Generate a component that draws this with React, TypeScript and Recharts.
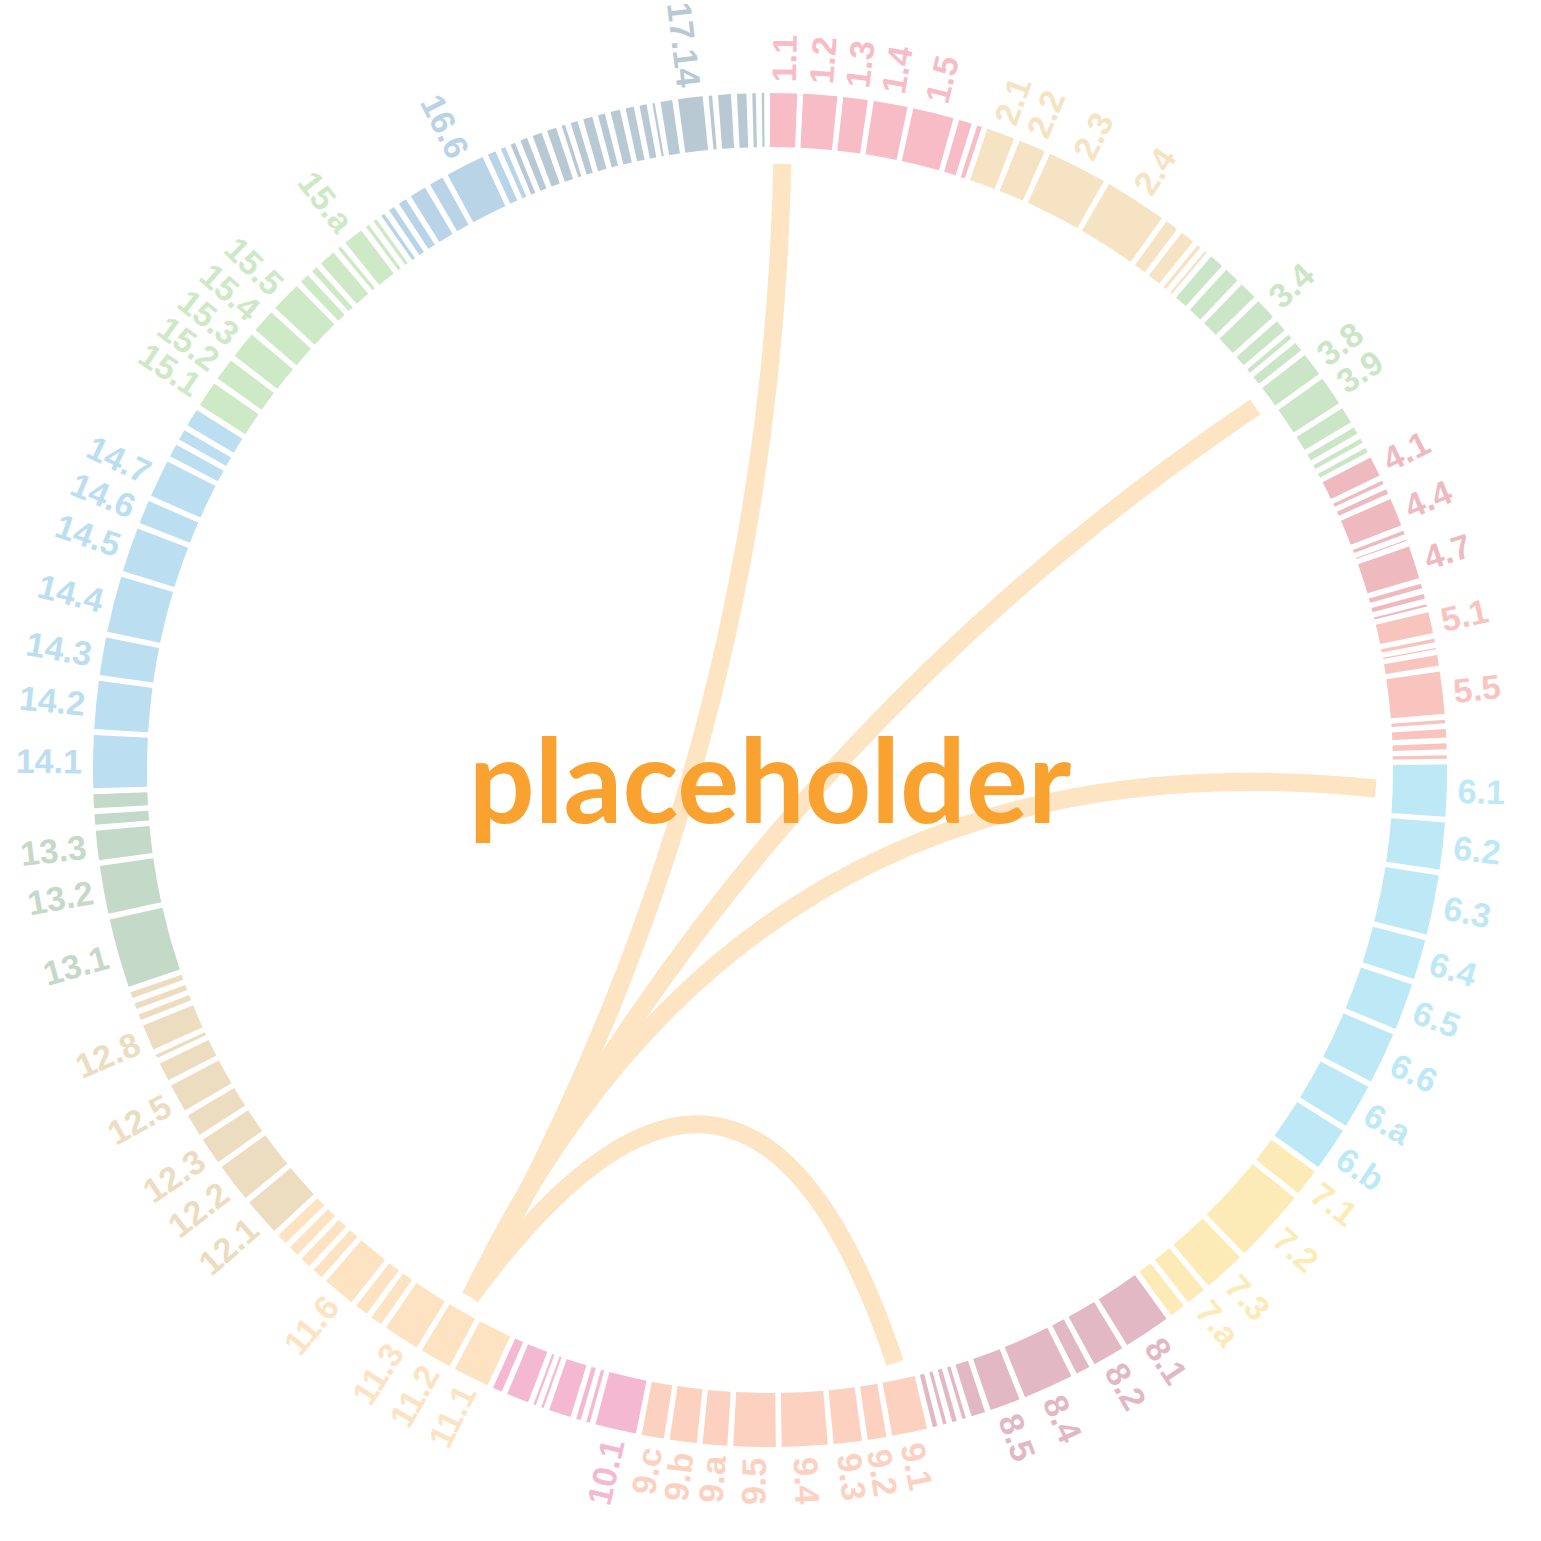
import { PieChart, Pie, Cell, Customized } from 'recharts'

// colours of the 17 groups, in ring order
const groupColors = [
  '#f8bcc6', '#f5e3c3', '#cbe6c6', '#eebac0', '#f9c4be', '#bde9f6', '#fdebb7', '#e2b8c5', '#fcd1bf',
  '#f5b8d3', '#fde3c2', '#ecdcc0', '#c4d9c7', '#bcdef1', '#cde9c6', '#b9d4e6', '#b9c9d4',
]

// ring segments, clockwise from 12 o'clock
const segmentIds = [
  '1.1', '1.2', '1.3', '1.4', '1.5', '1.6', '1.7',
  '2.1', '2.2', '2.3', '2.4', '2.5', '2.6', '2.7', '2.8',
  '3.1', '3.2', '3.3', '3.4', '3.5', '3.6', '3.7', '3.8', '3.9', '3.a', '3.b', '3.c', '3.d',
  '4.1', '4.2', '4.3', '4.4', '4.5', '4.6', '4.7', '4.8', '4.9', '4.a',
  '5.1', '5.2', '5.3', '5.4', '5.5', '5.6', '5.7', '5.8', '5.9',
  '6.1', '6.2', '6.3', '6.4', '6.5', '6.6', '6.a', '6.b',
  '7.1', '7.2', '7.3', '7.a', '7.b',
  '8.1', '8.2', '8.3', '8.4', '8.5', '8.6', '8.7', '8.8', '8.9', '8.a',
  '9.1', '9.2', '9.3', '9.4', '9.5', '9.a', '9.b', '9.c',
  '10.1', '10.2', '10.3', '10.4', '10.5', '10.6', '10.7', '10.8',
  '11.1', '11.2', '11.3', '11.4', '11.5', '11.6', '11.7', '11.8', '11.9', '11.a',
  '12.1', '12.2', '12.3', '12.4', '12.5', '12.6', '12.7', '12.8', '12.9', '12.a', '12.b',
  '13.1', '13.2', '13.3', '13.4', '13.5',
  '14.1', '14.2', '14.3', '14.4', '14.5', '14.6', '14.7', '14.8', '14.9', '14.a',
  '15.1', '15.2', '15.3', '15.4', '15.5', '15.6', '15.7', '15.8', '15.9', '15.a', '15.b', '15.c',
  '16.1', '16.2', '16.3', '16.4', '16.5', '16.6', '16.7', '16.8',
  '17.1', '17.2', '17.3', '17.4', '17.5', '17.6', '17.7', '17.8', '17.9', '17.10',
  '17.11', '17.12', '17.13', '17.14', '17.15', '17.16', '17.17', '17.18', '17.19',
]

const segmentSizes = [
  2.3, 2.9, 2.1, 2.9, 3.5, 1.1, 0.4,
  2.4, 2.3, 5.1, 5.3, 1.1, 1.2, 0.3, 0.2,
  1.2, 1.3, 1.5, 1.8, 1.0, 0.4, 0.8, 2.0, 2.5, 1.4, 0.6, 0.4, 0.4,
  1.7, 0.3, 0.4, 2.4, 0.3, 0.1, 2.8, 0.4, 0.4, 0.2,
  1.8, 0.3, 0.1, 0.9, 3.6, 0.3, 0.7, 0.5, 0.3,
  4.4, 4.0, 5.1, 3.4, 4.0, 4.4, 3.8, 3.7,
  2.3, 6.3, 3.6, 1.7, 1.3,
  4.0, 2.7, 1.2, 4.3, 2.6, 1.2, 0.3, 0.4, 0.3, 0.4,
  3.0, 1.6, 2.4, 3.9, 3.6, 2.1, 2.3, 1.9,
  3.5, 0.3, 0.4, 1.9, 0.2, 0.2, 1.9, 0.8,
  3.1, 2.7, 3.1, 1.0, 1.1, 2.8, 0.9, 0.9, 0.9, 0.9,
  3.2, 3.3, 2.3, 1.9, 2.4, 1.6, 0.3, 2.2, 0.5, 0.5, 0.5,
  5.9, 4.1, 2.5, 0.9, 1.2,
  4.5, 4.1, 3.2, 4.8, 3.8, 2.0, 3.2, 1.1, 0.9, 1.5,
  2.2, 1.9, 2.3, 2.0, 2.6, 0.8, 0.5, 1.4, 0.3, 1.7, 0.3, 0.3,
  0.3, 0.5, 0.7, 1.4, 1.2, 3.3, 0.7, 0.4,
  0.4, 0.6, 0.8, 0.8, 0.3, 0.6, 0.8, 0.6, 0.8, 0.7,
  0.6, 0.2, 1.0, 2.1, 0.3, 1.1, 0.8, 0.3, 0.2,
]

// segments that carry a label
const tickLabels = [
  '1.1', '1.2', '1.3', '1.4', '1.5', '2.1', '2.2', '2.3', '2.4', '3.4', '3.8', '3.9',
  '4.1', '4.4', '4.7', '5.1', '5.5', '6.1', '6.2', '6.3', '6.4', '6.5', '6.6', '6.a', '6.b',
  '7.1', '7.2', '7.3', '7.a', '8.1', '8.2', '8.4', '8.5', '9.1', '9.2', '9.3', '9.4', '9.5',
  '9.a', '9.b', '9.c', '10.1', '11.1', '11.2', '11.3', '11.6', '12.1', '12.2', '12.3', '12.5',
  '12.8', '13.1', '13.2', '13.3', '14.1', '14.2', '14.3', '14.4', '14.5', '14.6', '14.7',
  '15.1', '15.2', '15.3', '15.4', '15.5', '15.a', '16.6', '17.14',
]

const linkSources = ['11.2', '11.2', '11.2', '11.2']
const linkTargets = ['1.1', '3.8', '6.1', '9.1']
const linkCurveness = [1.0, 1.25, 1.17, 0.73]

const SIZE = 1541
const CX = 770
const CY = 770
const INNER = 623
const OUTER = 677
const PAD = 0.5
const START = 90
const LABEL_R = 688
const CHORD_R = 606
const RAD = Math.PI / 180

const data = segmentIds.map((id, i) => ({
  id,
  size: segmentSizes[i],
  group: Number(id.split('.')[0]),
}))

const polar = (r: number, angle: number) => ({
  x: CX + Math.cos(-angle * RAD) * r,
  y: CY + Math.sin(-angle * RAD) * r,
})

// same angle split the Pie uses (full circle, clockwise, fixed padding)
function midAngles() {
  const total = segmentSizes.reduce((a, b) => a + b, 0)
  const real = 360 - segmentSizes.length * PAD
  const mids: Record<string, number> = {}
  let prevEnd = START
  segmentSizes.forEach((v, i) => {
    const s = i ? prevEnd - PAD : START
    const e = s - (v / total) * real
    mids[segmentIds[i]] = (s + e) / 2
    prevEnd = e
  })
  return mids
}

function renderLabel(props: any) {
  const id = props.name ?? props.payload?.id
  if (!tickLabels.includes(id)) return <g />
  const p = polar(LABEL_R, props.midAngle)
  const theta = (((90 - props.midAngle) % 360) + 360) % 360
  const right = theta < 180
  const rot = right ? theta - 90 : theta - 270
  const group = Number(String(id).split('.')[0])
  return (
    <text
      x={p.x}
      y={p.y}
      transform={`rotate(${rot} ${p.x} ${p.y})`}
      textAnchor={right ? 'start' : 'end'}
      dominantBaseline="central"
      fill={groupColors[group - 1]}
      fontSize={34}
      fontWeight="bold"
      fontFamily="'Liberation Sans', Arial, sans-serif"
    >
      {id}
    </text>
  )
}

function ChordLayer() {
  const mids = midAngles()
  return (
    <g>
      {linkTargets.map((t, i) => {
        const p0 = polar(CHORD_R, mids[linkSources[i]])
        const p1 = polar(CHORD_R, mids[t])
        const k = linkCurveness[i]
        const mx = (p0.x + p1.x) / 2
        const my = (p0.y + p1.y) / 2
        const c = { x: CX + (mx - CX) * (1 - k), y: CY + (my - CY) * (1 - k) }
        return (
          <path
            key={t}
            d={`M${p0.x},${p0.y} Q${c.x},${c.y} ${p1.x},${p1.y}`}
            fill="none"
            stroke="#fde4c3"
            strokeWidth={18}
          />
        )
      })}
      <text
        x={CX}
        y={823}
        textAnchor="middle"
        fill="#f9a230"
        fontSize={116}
        fontWeight="bold"
        fontFamily="Lato, 'Open Sans', sans-serif"
      >
        placeholder
      </text>
    </g>
  )
}

export default function App() {
  return (
    <div style={{ position: 'absolute', left: 0, top: 0, width: SIZE, height: SIZE, background: '#fff' }}>
      <PieChart width={SIZE} height={SIZE} margin={{ top: 0, right: 0, bottom: 0, left: 0 }}>
        <Customized component={ChordLayer} />
        <Pie
          data={data}
          dataKey="size"
          nameKey="id"
          cx={CX}
          cy={CY}
          innerRadius={INNER}
          outerRadius={OUTER}
          startAngle={START}
          endAngle={START - 360}
          paddingAngle={PAD}
          stroke="none"
          label={renderLabel}
          labelLine={false}
          isAnimationActive={false}
        >
          {data.map((d) => (
            <Cell key={d.id} fill={groupColors[d.group - 1]} />
          ))}
        </Pie>
      </PieChart>
    </div>
  )
}
